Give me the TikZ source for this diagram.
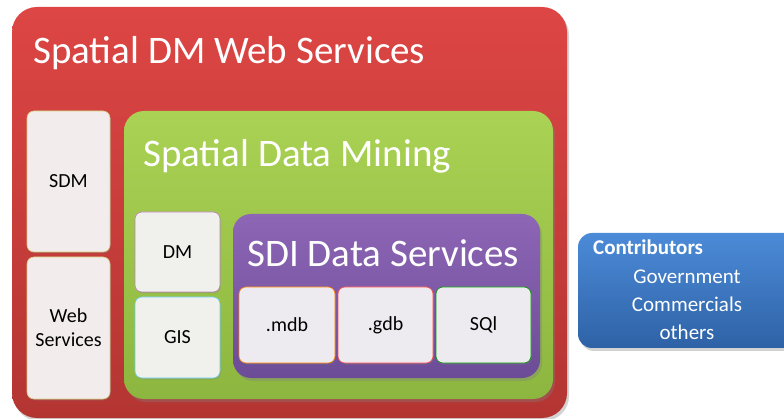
\documentclass[tikz,border=0pt]{standalone}
\usepackage{fontspec}
\setmainfont{Carlito}
\usetikzlibrary{shadows}

\definecolor{redtop}{HTML}{DD4644}
\definecolor{redbot}{HTML}{B33532}
\definecolor{greentop}{HTML}{AAD254}
\definecolor{greenbot}{HTML}{8CB63F}
\definecolor{purpletop}{HTML}{8D66B6}
\definecolor{purplebot}{HTML}{6C4C96}
\definecolor{bluetop}{HTML}{4C8BD8}
\definecolor{bluebot}{HTML}{2E62A6}
\definecolor{tilered}{HTML}{F3ECEC}
\definecolor{tilegreen}{HTML}{F0F1EC}
\definecolor{tilepurple}{HTML}{EEEBF0}

\tikzset{
    panel/.style={rounded corners=#1, inner sep=0pt,
        drop shadow={opacity=.35, shadow xshift=2pt, shadow yshift=-3pt}},
    tile/.style={draw=#1, line width=.6pt, rounded corners=7pt, inner sep=0pt,
        align=center, font=\fontsize{20}{24}\selectfont,
        drop shadow={opacity=.25, shadow xshift=1pt, shadow yshift=-1.5pt}},
    paneltitle/.style={anchor=base west, inner sep=0pt, text=white,
        font=\fontsize{39}{47}\selectfont},
    contrib/.style={anchor=base, inner sep=0pt, text=white,
        font=\fontsize{21}{25}\selectfont}
}

\begin{document}
\begin{tikzpicture}[x=1pt, y=-1pt]
    \useasboundingbox (0,0) rectangle (784,419);
    \clip (0,0) rectangle (784,419);

    % outer panel
    \node[panel=25pt, top color=redtop, bottom color=redbot,
        minimum width=555pt, minimum height=411pt] (dmweb) at (289.5,212.5) {};
    \node[paneltitle] (dmwebtitle) at (33,64) {Spatial DM Web Services};

    \node[tile=olive!40, fill=tilered, minimum width=83pt, minimum height=141pt]
        (sdm) at (68.5,181.5) {SDM};
    \node[tile=olive!40, fill=tilered, minimum width=83pt, minimum height=142pt]
        (websrv) at (68.5,328) {Web\\Services};

    % spatial data mining
    \node[panel=20pt, top color=greentop, bottom color=greenbot,
        minimum width=429pt, minimum height=288pt] (sdmining) at (338.5,255) {};
    \node[paneltitle] (sdminingtitle) at (143,167) {Spatial Data Mining};

    \node[tile=violet!50, fill=tilegreen, minimum width=85pt, minimum height=80pt]
        (dm) at (177.5,252) {DM};
    \node[tile=cyan!60, fill=tilegreen, minimum width=85pt, minimum height=81pt]
        (gis) at (177.5,337.5) {GIS};

    % sdi data services
    \node[panel=18pt, top color=purpletop, bottom color=purplebot,
        minimum width=307pt, minimum height=164pt] (sdi) at (386.5,296) {};
    \node[paneltitle] (sditle) at (247,267) {SDI Data Services};

    \node[tile=orange, fill=tilepurple, minimum width=96pt, minimum height=76pt]
        (mdb) at (287,325) {.mdb};
    \node[tile=red!70, fill=tilepurple, minimum width=95pt, minimum height=76pt]
        (gdb) at (385.5,325) {.gdb};
    \node[tile=green!60!black, fill=tilepurple, minimum width=95pt, minimum height=76pt]
        (sql) at (483.5,325) {SQl};

    % contributors
    \node[panel=14pt, top color=bluetop, bottom color=bluebot,
        minimum width=232pt, minimum height=115pt] (contrib) at (694,290.5) {};
    \node[contrib, anchor=base west, font=\fontsize{21}{25}\selectfont\bfseries]
        (contribtitle) at (593,255) {Contributors};
    \node[contrib] (gov) at (687,284) {Government};
    \node[contrib] (comm) at (687,312) {Commercials};
    \node[contrib] (others) at (687,340) {others};
\end{tikzpicture}
\end{document}
